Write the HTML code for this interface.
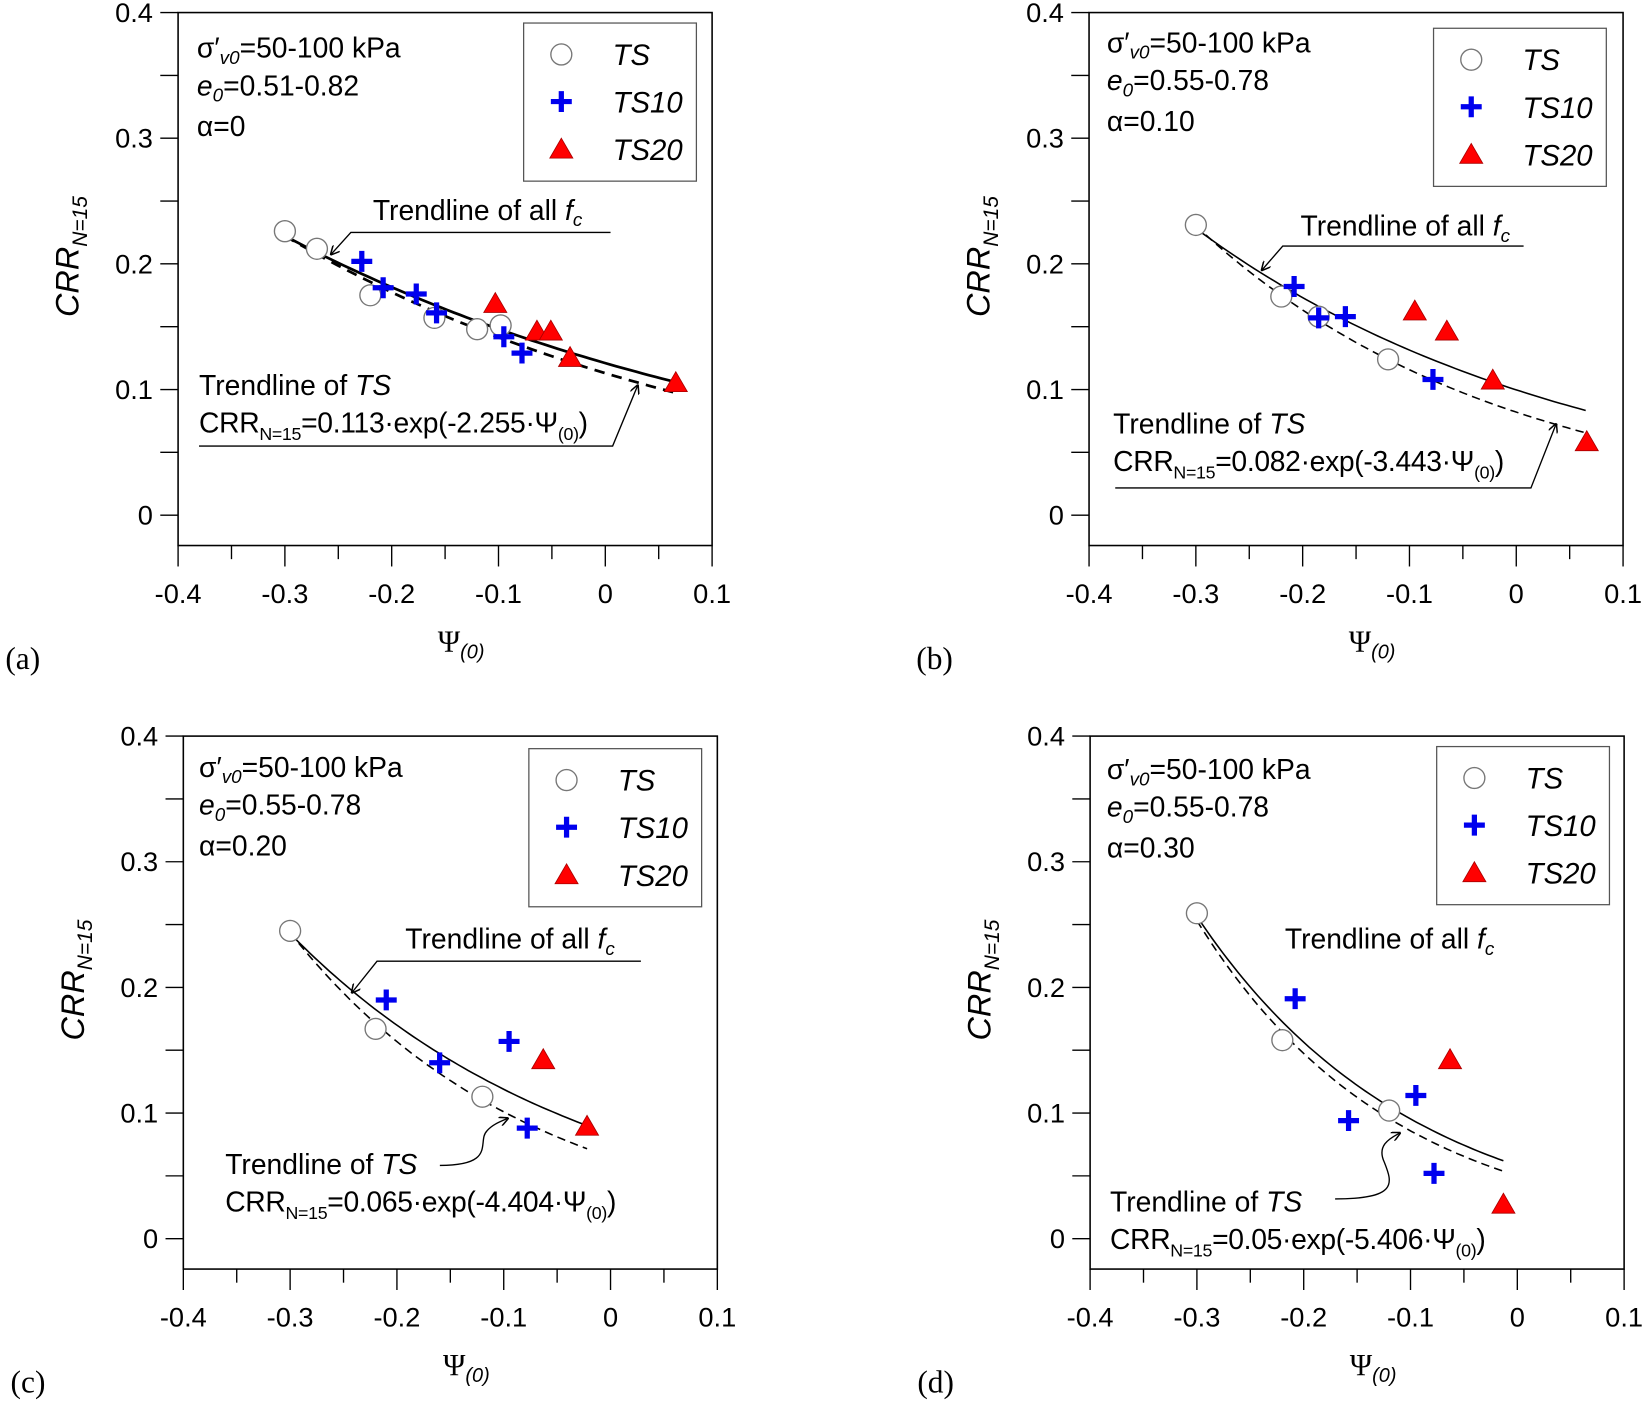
<!DOCTYPE html>
<html><head><meta charset="utf-8"><style>
html,body{margin:0;padding:0;background:#fff;}
svg{display:block;font-family:"Liberation Sans",sans-serif;}
</style></head><body>
<svg id="fig" width="1642" height="1401" viewBox="0 0 1568 1338" xmlns="http://www.w3.org/2000/svg">
<defs>
<marker id="arr" viewBox="0 0 10 10" refX="9" refY="5" markerWidth="9" markerHeight="9" orient="auto-start-reverse" markerUnits="userSpaceOnUse"><path d="M0,0 L10,5 L0,10" fill="none" stroke="#000" stroke-width="1.6"/></marker>
</defs>
</svg>
<script>
// ---- data (one entry per panel a,b,c,d) ----
const panelIds = ['a','b','c','d'];
const alphaLabels = ['α=0','α=0.10','α=0.20','α=0.30'];
const e0Labels = ['=0.51-0.82','=0.55-0.78','=0.55-0.78','=0.55-0.78'];
const eqLabels = ['=0.113·exp(-2.255·Ψ','=0.082·exp(-3.443·Ψ','=0.065·exp(-4.404·Ψ','=0.05·exp(-5.406·Ψ'];
const tsX = [[-0.30,-0.27,-0.22,-0.16,-0.12,-0.098],[-0.30,-0.22,-0.185,-0.12],[-0.30,-0.22,-0.12],[-0.30,-0.22,-0.12]];
const tsY = [[0.226,0.212,0.175,0.157,0.148,0.151],[0.231,0.174,0.158,0.124],[0.245,0.167,0.113],[0.259,0.158,0.102]];
const ts10X = [[-0.228,-0.208,-0.177,-0.158,-0.095,-0.078],[-0.208,-0.185,-0.16,-0.078],[-0.21,-0.16,-0.095,-0.078],[-0.208,-0.158,-0.095,-0.078]];
const ts10Y = [[0.202,0.181,0.176,0.161,0.142,0.129],[0.182,0.157,0.158,0.108],[0.19,0.14,0.157,0.088],[0.191,0.094,0.114,0.052]];
const ts20X = [[-0.103,-0.064,-0.051,-0.033,0.066],[-0.095,-0.065,-0.022,0.066],[-0.063,-0.022],[-0.063,-0.013]];
const ts20Y = [[0.168,0.146,0.146,0.125,0.105],[0.162,0.146,0.107,0.058],[0.142,0.089],[0.142,0.027]];
const fitAllA = [0.121,0.0997,0.0832,0.0581];
const fitAllB = [-2.026,-2.76,-3.57,-4.95];
const fitTsA = [0.113,0.082,0.065,0.05];
const fitTsB = [-2.255,-3.443,-4.404,-5.406];
const fitXEnd = [0.065,0.065,-0.022,-0.013];
const xTicks = [-0.4,-0.3,-0.2,-0.1,0,0.1];
const xTickLabels = ['-0.4','-0.3','-0.2','-0.1','0','0.1'];
const yTicks = [0,0.1,0.2,0.3,0.4];
const yTickLabels = ['0','0.1','0.2','0.3','0.4'];

// ---- layout ----
const NS='http://www.w3.org/2000/svg';
const svg=document.getElementById('fig');
const boxes=[{l:170,t:12,tx:188,ty:55,lg:[500,22],afx:356,afy:210,tsx:190,tsy:377},
             {l:1040,t:12,tx:1057,ty:50,lg:[1369,27],afx:1242,afy:225,tsx:1063,tsy:414},
             {l:175,t:703,tx:190,ty:742,lg:[505,715],afx:387,afy:906,tsx:215,tsy:1121},
             {l:1041,t:703,tx:1057,ty:744,lg:[1372,713],afx:1227,afy:906,tsx:1060,tsy:1157}];
function mk(tag,attrs,parent,text){const e=document.createElementNS(NS,tag);for(const k in attrs)e.setAttribute(k,attrs[k]);if(text!==undefined)e.textContent=text;(parent||svg).appendChild(e);return e;}
function circleM(g,x,y){const c=mk('circle',{cx:x,cy:y,r:10,fill:'#fff',stroke:'#777','stroke-width':1.3},g);}
function crossM(g,x,y){const p=mk('path',{d:`M${x-10},${y}H${x+10}M${x},${y-10}V${y+10}`,stroke:'#0000ee','stroke-width':5,fill:'none'},g);}
function triM(g,x,y){const p=mk('path',{d:`M${x},${y-11}L${x+11},${y+8}L${x-11},${y+8}Z`,fill:'#ff0000',stroke:'#a00','stroke-width':0.8},g);}

panelIds.forEach((id,i)=>{
  const b=boxes[i];
  const W=510,H=509;
  const sx=v=>b.l+(v+0.4)/0.5*W;
  const sy=v=>b.t+(0.4-v)/0.1*120;
  const g=mk('g',{});
  
  
  const fr=mk('rect',{x:b.l,y:b.t,width:W,height:H,fill:'none',stroke:'#000','stroke-width':1.5},g);
  
  for(let k=0;k<=8;k++){const v=k*0.05;mk('line',{x1:b.l-17,x2:b.l,y1:sy(v),y2:sy(v),stroke:'#000','stroke-width':1.3},g);}
  yTicks.forEach((v,k)=>{const t=mk('text',{x:b.l-24,y:sy(v)+9,'text-anchor':'end','font-size':26},g,yTickLabels[k]);});
  for(let k=0;k<=10;k++){const v=-0.4+k*0.05;const maj=k%2==0;mk('line',{x1:sx(v),x2:sx(v),y1:b.t+H,y2:b.t+H+(maj?20:13),stroke:'#000','stroke-width':1.3},g);}
  xTicks.forEach((v,k)=>{const t=mk('text',{x:sx(v),y:b.t+H+55,'text-anchor':'middle','font-size':26},g,xTickLabels[k]);});
  const yt=mk('text',{transform:`translate(${b.l-95},${b.t+233}) rotate(-90)`,'text-anchor':'middle','font-size':31,'font-style':'italic'},g);
  
  mk('tspan',{},yt,'CRR');mk('tspan',{'font-size':20,dy:8},yt,'N=15');
  const xt=mk('text',{x:b.l+248,y:b.t+610,'font-size':29,'font-family':'"Liberation Serif",serif'},g,'Ψ');
  
  mk('tspan',{'font-size':19,'font-style':'italic','font-family':'"Liberation Sans",sans-serif',dy:7},xt,'(0)');
  const pl=mk('text',{x:b.l-165,y:b.t+627,'font-size':30,'font-family':'"Liberation Serif",serif'},g,'('+id+')');
  
  const t1=mk('text',{x:b.tx,y:b.ty,'font-size':27},g);
  mk('tspan',{},t1,'σ′');mk('tspan',{'font-size':18,'font-style':'italic',dy:6},t1,'v0');mk('tspan',{dy:-6},t1,'=50-100 kPa');
  const t2=mk('text',{x:b.tx,y:b.ty+36,'font-size':27},g);
  mk('tspan',{'font-style':'italic'},t2,'e');mk('tspan',{'font-size':18,'font-style':'italic',dy:6},t2,'0');mk('tspan',{dy:-6},t2,e0Labels[i]);
  const t3=mk('text',{x:b.tx,y:b.ty+75,'font-size':27},g,alphaLabels[i]);
  const lg=mk('g',{},g);
  mk('rect',{x:b.lg[0],y:b.lg[1],width:165,height:151,fill:'#fff',stroke:'#555','stroke-width':1.2},lg);
  const mx=b.lg[0]+36,my=b.lg[1]+30;
  circleM(lg,mx,my);crossM(lg,mx,my+45);triM(lg,mx,my+91);
  ['TS','TS10','TS20'].forEach((s,k)=>{const t=mk('text',{x:mx+49,y:my+10+k*45.5,'font-size':28,'font-style':'italic'},lg,s);});
  function curve(a,bb,dash,name){let d='';for(let k=0;k<=60;k++){const x=-0.3+(fitXEnd[i]+0.3)*k/60;d+=(k?'L':'M')+sx(x).toFixed(1)+','+sy(a*Math.exp(bb*x)).toFixed(1);}
    const p=mk('path',{d:d,fill:'none',stroke:'#000','stroke-width':i==0?2.6:1.5,'stroke-dasharray':dash},g);}
  curve(fitTsA[i],fitTsB[i],i==0?'10,7':'8,5','ts-trendline');
  curve(fitAllA[i],fitAllB[i],'none','all-fc-trendline');
  tsX[i].forEach((x,k)=>circleM(g,sx(x),sy(tsY[i][k])));
  ts10X[i].forEach((x,k)=>crossM(g,sx(x),sy(ts10Y[i][k])));
  ts20X[i].forEach((x,k)=>triM(g,sx(x),sy(ts20Y[i][k])));
  const a1=mk('text',{x:b.afx,y:b.afy,'font-size':27},g);
  mk('tspan',{},a1,'Trendline of all ');mk('tspan',{'font-style':'italic'},a1,'f');mk('tspan',{'font-size':18,'font-style':'italic',dy:6},a1,'c');
  const a2=mk('text',{x:b.tsx,y:b.tsy,'font-size':27},g);
  mk('tspan',{},a2,'Trendline of ');mk('tspan',{'font-style':'italic'},a2,'TS');
  const a3=mk('text',{x:b.tsx,y:b.tsy+36,'font-size':27,'letter-spacing':-0.3},g);
  mk('tspan',{},a3,'CRR');mk('tspan',{'font-size':17,dy:7},a3,'N=15');mk('tspan',{dy:-7},a3,eqLabels[i]);mk('tspan',{'font-size':17,dy:7},a3,'(0)');mk('tspan',{dy:-7},a3,')');
  const ls={fill:'none',stroke:'#000','stroke-width':1.3,'marker-end':'url(#arr)'};
  let p1=null,p2=null;
  if(i==0){p1='M583,222H335L316,243';p2='M190,426H585L609,368';}
  if(i==1){p1='M1455,235H1225L1205,258';p2='M1065,466H1462L1486,405';}
  if(i==2){p1='M612,918H360L336,948';p2='M420,1113C475,1113 455,1090 465,1080 C470,1074 478,1071 485,1068';}
  if(i==3){p2='M1275,1145C1335,1145 1330,1130 1322,1110 C1315,1095 1325,1088 1337,1082';}
  if(p1){const e=mk('path',Object.assign({d:p1},ls),g);}
  const e2=mk('path',Object.assign({d:p2},ls),g);
});
</script>
</body></html>
